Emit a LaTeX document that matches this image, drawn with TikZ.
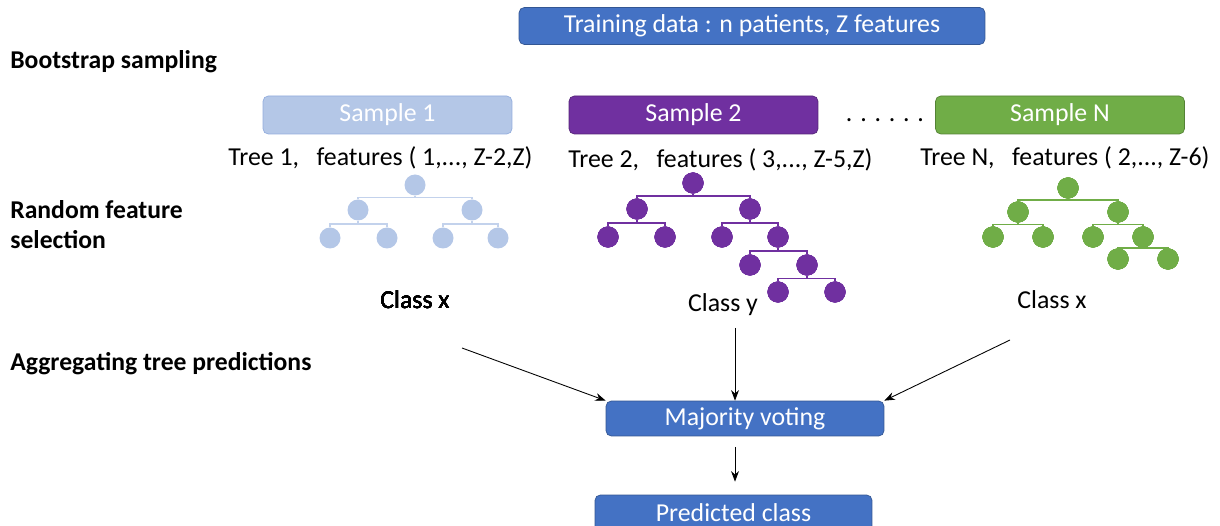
\documentclass[tikz,border=0pt]{standalone}
\usepackage{fontspec}
\setmainfont{Carlito}
\usetikzlibrary{calc,arrows.meta}

\definecolor{boxblue}{HTML}{4472C4}
\definecolor{lite}{HTML}{B4C7E7}
\definecolor{purp}{HTML}{7030A0}
\definecolor{grn}{HTML}{70AD47}

\newcommand\branch[3]{\draw[#1,line width=0.6pt] (#2) |- ($(#2)!.5!(#3)$) -| (#3);}

\begin{document}
\begin{tikzpicture}[x=0.02cm,y=-0.02cm,
	box/.style={rounded corners=3pt,draw=#1!75!black,fill=#1,text=white,inner sep=0,
		minimum width=4.98cm,minimum height=0.76cm,font=\fontsize{14.7}{17}\selectfont},
	dot/.style={circle,fill=#1,inner sep=0,minimum size=0.42cm},
	lbl/.style={font=\fontsize{14.7}{17}\selectfont},
	step lbl/.style={anchor=west,align=left,inner sep=0,font=\bfseries\fontsize{14.6}{17}\selectfont},
	arr/.style={-{Stealth[length=6pt,width=4.5pt]},line width=0.5pt}]
	\useasboundingbox (0,0) rectangle (1220,526);
	\clip (0,0) rectangle (1220,526);
	% boxes
	\node[box=boxblue,minimum width=9.32cm,minimum height=0.74cm] (train) at (752,26) {Training data : n patients, Z features};
	\node[box=lite,draw=lite!70!boxblue] (s1) at (387.5,115) {Sample 1};
	\node[box=purp] (s2) at (693.5,115) {Sample 2};
	\node[box=grn] (sN) at (1060,115) {Sample N};
	\node[lbl] (dots) at (885,120) {. . . . . .};
	\node[box=boxblue,minimum width=5.56cm,minimum height=0.7cm] (vote) at (745,418.5) {Majority voting};
	\node[box=boxblue,minimum width=5.54cm,minimum height=0.72cm] (pred) at (733.5,513) {Predicted class};
	% step labels
	\node[step lbl] (boot) at (10,62) {Bootstrap sampling};
	\node[step lbl] (rfs) at (10,225) {Random feature\\selection};
	\node[step lbl] (agg) at (10,364) {Aggregating tree predictions};
	% tree labels
	\node[lbl,anchor=west,inner sep=0] (f1) at (228,158) {Tree 1,\ \ \ features ( 1,..., Z-2,Z)};
	\node[lbl,anchor=west,inner sep=0] (f2) at (568,160) {Tree 2,\ \ \ features ( 3,..., Z-5,Z)};
	\node[lbl,anchor=west,inner sep=0] (fN) at (920,158) {Tree N,\ \ \ features ( 2,..., Z-6)};
	% tree 1
	\foreach \n/\x/\y in {a0/415/185,a1/358/210,a2/472/210,a3/330/238,a4/387/238,a5/443/238,a6/498/238}
		\node[dot=lite] (\n) at (\x,\y) {};
	\foreach \p/\c in {a0/a1,a0/a2,a1/a3,a1/a4,a2/a5,a2/a6} \branch{lite!80!white}{\p}{\c}
	% tree 2
	\foreach \n/\x/\y in {b0/693/183,b1/637/209,b2/750/209,b3/608/237,b4/665/237,b5/722/237,b6/778/237,
		b7/750/265,b8/807/265,b9/778/292,b10/835/292}
		\node[dot=purp] (\n) at (\x,\y) {};
	\foreach \p/\c in {b0/b1,b0/b2,b1/b3,b1/b4,b2/b5,b2/b6,b6/b7,b6/b8,b8/b9,b8/b10} \branch{purp}{\p}{\c}
	% tree N
	\foreach \n/\x/\y in {c0/1068/188,c1/1018/212,c2/1118/212,c3/993/237,c4/1043/237,c5/1093/237,c6/1143/237,
		c7/1118/259,c8/1168/259}
		\node[dot=grn] (\n) at (\x,\y) {};
	\foreach \p/\c in {c0/c1,c0/c2,c1/c3,c1/c4,c2/c5,c2/c6,c6/c7,c6/c8} \branch{grn}{\p}{\c}
	% predictions
	\node[lbl] (k1) at (415,300) {Class x};
	\node[lbl] (k2) at (723,305) {Class y};
	\node[lbl] (kN) at (1052,300) {Class x};
	\coordinate (a1s) at (462,348);
	\coordinate (a2s) at (735,328);
	\coordinate (a3s) at (1010,340);
	\coordinate (a4s) at (735,447);
	\draw[arr] (a1s) -- (vote.north west);
	\draw[arr] (a2s) -- (a2s |- vote.north);
	\draw[arr] (a3s) -- (vote.north east);
	\draw[arr] (a4s) -- ($(a4s |- pred.north)+(0,-13)$);
\end{tikzpicture}
\end{document}
